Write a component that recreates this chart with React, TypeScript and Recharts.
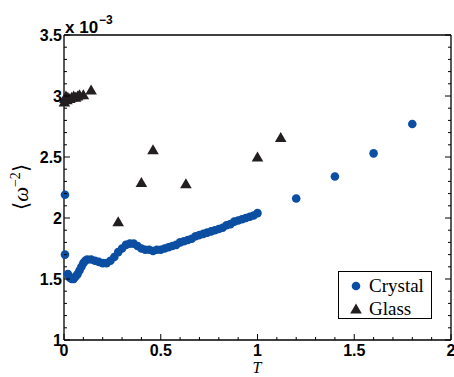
import { ScatterChart, Scatter, XAxis, YAxis } from "recharts";

// temperature T and <w^-2> (in units of 1e-3)
const crystalT = [
  0.005, 0.005, 0.02, 0.03, 0.04, 0.05, 0.06, 0.07, 0.08, 0.09, 0.1, 0.11,
  0.12, 0.14, 0.16, 0.18, 0.2, 0.22, 0.24, 0.26, 0.28, 0.3, 0.32, 0.34, 0.36,
  0.38, 0.4, 0.42, 0.44, 0.46, 0.48, 0.5, 0.52, 0.54, 0.56, 0.58, 0.6, 0.62,
  0.64, 0.66, 0.68, 0.7, 0.72, 0.74, 0.76, 0.78, 0.8, 0.82, 0.84, 0.86, 0.88,
  0.9, 0.92, 0.94, 0.96, 0.98, 1.0, 1.2, 1.4, 1.6, 1.8,
];
const crystalW = [
  2.19, 1.7, 1.54, 1.51, 1.5, 1.5, 1.52, 1.54, 1.57, 1.6, 1.63, 1.65, 1.66,
  1.66, 1.65, 1.64, 1.63, 1.63, 1.65, 1.68, 1.72, 1.75, 1.78, 1.79, 1.79,
  1.77, 1.75, 1.74, 1.74, 1.73, 1.74, 1.74, 1.75, 1.76, 1.77, 1.78, 1.8, 1.81,
  1.82, 1.83, 1.85, 1.86, 1.87, 1.88, 1.89, 1.9, 1.91, 1.92, 1.94, 1.95, 1.97,
  1.98, 1.99, 2.0, 2.01, 2.02, 2.04, 2.16, 2.34, 2.53, 2.77,
];

const glassT = [
  0.002, 0.005, 0.01, 0.015, 0.02, 0.03, 0.04, 0.05, 0.06, 0.07, 0.08, 0.1,
  0.14, 0.28, 0.4, 0.46, 0.63, 1.0, 1.12,
];
const glassW = [
  2.95, 2.98, 3.0, 2.97, 2.99, 2.98, 2.99, 3.0, 2.99, 3.0, 3.01, 3.01, 3.05,
  1.97, 2.29, 2.56, 2.28, 2.5, 2.66,
];

const xTicks = [0, 0.5, 1, 1.5, 2];
const yTicks = [1, 1.5, 2, 2.5, 3, 3.5];
const xMinor = [
  0.1, 0.2, 0.3, 0.4, 0.6, 0.7, 0.8, 0.9, 1.1, 1.2, 1.3, 1.4, 1.6, 1.7, 1.8,
  1.9,
];
const yMinor = [
  1.1, 1.2, 1.3, 1.4, 1.6, 1.7, 1.8, 1.9, 2.1, 2.2, 2.3, 2.4, 2.6, 2.7, 2.8,
  2.9, 3.1, 3.2, 3.3, 3.4,
];

const crystal = crystalT.map((t, i) => ({ t, w: crystalW[i] }));
const glass = glassT.map((t, i) => ({ t, w: glassW[i] }));
const xAll = [...xTicks, ...xMinor];
const yAll = [...yTicks, ...yMinor];

const BLUE = "#0b4ea2";
const DARK = "#231f20";
const SANS = "Liberation Sans, Arial, sans-serif";
const SERIF = "Liberation Serif, serif";
const frame = { stroke: "#000", strokeWidth: 1.3 };

const Dot = (p: any) => <circle cx={p.cx} cy={p.cy} r={4.3} fill={BLUE} />;
const Tri = (p: any) => (
  <polygon
    points={`${p.cx},${p.cy - 5.5} ${p.cx - 5.8},${p.cy + 4.5} ${p.cx + 5.8},${p.cy + 4.5}`}
    fill={DARK}
  />
);

const tickLen = (major: boolean) => (major ? 6 : 3);

// matlab-style inward ticks; labels only on the major ones
const BottomTick = (p: any) => {
  const v = p.payload.value;
  const major = xTicks.includes(v);
  return (
    <g>
      <line x1={p.x} x2={p.x} y1={p.y} y2={p.y - tickLen(major)} stroke="#000" />
      {major && (
        <text x={p.x} y={p.y + 16} textAnchor="middle" fontFamily={SANS} fontWeight="bold" fontSize={16} fill="#000">
          {String(v)}
        </text>
      )}
    </g>
  );
};
const LeftTick = (p: any) => {
  const v = p.payload.value;
  const major = yTicks.includes(v);
  return (
    <g>
      <line x1={p.x} x2={p.x + tickLen(major)} y1={p.y} y2={p.y} stroke="#000" />
      {major && (
        <text x={p.x - 2} y={p.y + 6} textAnchor="end" fontFamily={SANS} fontWeight="bold" fontSize={16} fill="#000">
          {String(v)}
        </text>
      )}
    </g>
  );
};
const TopTick = (p: any) => {
  const major = xTicks.includes(p.payload.value);
  return <line x1={p.x} x2={p.x} y1={p.y} y2={p.y + tickLen(major)} stroke="#000" />;
};
const RightTick = (p: any) => {
  const major = yTicks.includes(p.payload.value);
  return <line x1={p.x} x2={p.x - tickLen(major)} y1={p.y} y2={p.y} stroke="#000" />;
};

export default function App() {
  return (
    <div
      style={{
        position: "absolute",
        left: 0,
        top: 0,
        width: 454,
        height: 377,
        background: "#fff",
        overflow: "hidden",
      }}
    >
      <ScatterChart
        width={454}
        height={377}
        margin={{ top: 35, right: 3, bottom: 36, left: 63 }}
      >
        <XAxis
          xAxisId="b"
          type="number"
          dataKey="t"
          domain={[0, 2]}
          ticks={xAll}
          interval={0}
          height={1}
          tickLine={false}
          tickSize={0}
          tickMargin={0}
          axisLine={frame}
          tick={BottomTick}
        />
        <YAxis
          yAxisId="l"
          type="number"
          dataKey="w"
          domain={[1, 3.5]}
          ticks={yAll}
          interval={0}
          width={1}
          tickLine={false}
          tickSize={0}
          tickMargin={0}
          axisLine={frame}
          tick={LeftTick}
        />
        <XAxis
          xAxisId="t"
          orientation="top"
          mirror
          type="number"
          domain={[0, 2]}
          allowDataOverflow
          ticks={xAll}
          interval={0}
          height={1}
          tickLine={false}
          tickSize={0}
          tickMargin={0}
          axisLine={frame}
          tick={TopTick}
        />
        <YAxis
          yAxisId="r"
          orientation="right"
          mirror
          type="number"
          domain={[1, 3.5]}
          allowDataOverflow
          ticks={yAll}
          interval={0}
          width={1}
          tickLine={false}
          tickSize={0}
          tickMargin={0}
          axisLine={frame}
          tick={RightTick}
        />
        <Scatter
          name="Crystal"
          data={crystal}
          xAxisId="b"
          yAxisId="l"
          shape={Dot}
          isAnimationActive={false}
        />
        <Scatter
          name="Glass"
          data={glass}
          xAxisId="b"
          yAxisId="l"
          shape={Tri}
          isAnimationActive={false}
        />
      </ScatterChart>

      {/* exponent of the y scale */}
      <div
        style={{
          position: "absolute",
          left: 65,
          top: 19,
          fontFamily: SANS,
          fontWeight: "bold",
          fontSize: 17,
          lineHeight: "17px",
          whiteSpace: "nowrap",
        }}
      >
        x 10
        <span style={{ position: "relative", top: -9, fontSize: 12, marginLeft: 1 }}>−3</span>
      </div>

      {/* y axis title */}
      <div
        style={{
          position: "absolute",
          left: 22,
          top: 187,
          transform: "translate(-50%, -50%) rotate(-90deg)",
          fontFamily: SERIF,
          fontSize: 21,
          whiteSpace: "nowrap",
          lineHeight: "22px",
        }}
      >
        ⟨<i>ω</i>
        <span style={{ position: "relative", top: -8, fontSize: 14 }}>−2</span>⟩
      </div>

      {/* x axis title */}
      <div
        style={{
          position: "absolute",
          left: 257,
          top: 360,
          transform: "translateX(-50%)",
          fontFamily: SERIF,
          fontStyle: "italic",
          fontSize: 16,
          lineHeight: "16px",
        }}
      >
        T
      </div>

      {/* legend */}
      <div
        style={{
          position: "absolute",
          left: 338,
          top: 271,
          width: 92,
          height: 46,
          border: "1.5px solid #000",
          background: "#fff",
          fontFamily: SERIF,
          fontSize: 19,
        }}
      >
        <div style={{ position: "absolute", left: 11, top: 4, display: "flex", alignItems: "center" }}>
          <svg width={12} height={12}>
            <circle cx={6} cy={6} r={4.3} fill={BLUE} />
          </svg>
          <span style={{ marginLeft: 7, lineHeight: "19px" }}>Crystal</span>
        </div>
        <div style={{ position: "absolute", left: 11, top: 27, display: "flex", alignItems: "center" }}>
          <svg width={12} height={12}>
            <polygon points="6,0.5 0.2,10.5 11.8,10.5" fill={DARK} />
          </svg>
          <span style={{ marginLeft: 7, lineHeight: "19px" }}>Glass</span>
        </div>
      </div>
    </div>
  );
}
